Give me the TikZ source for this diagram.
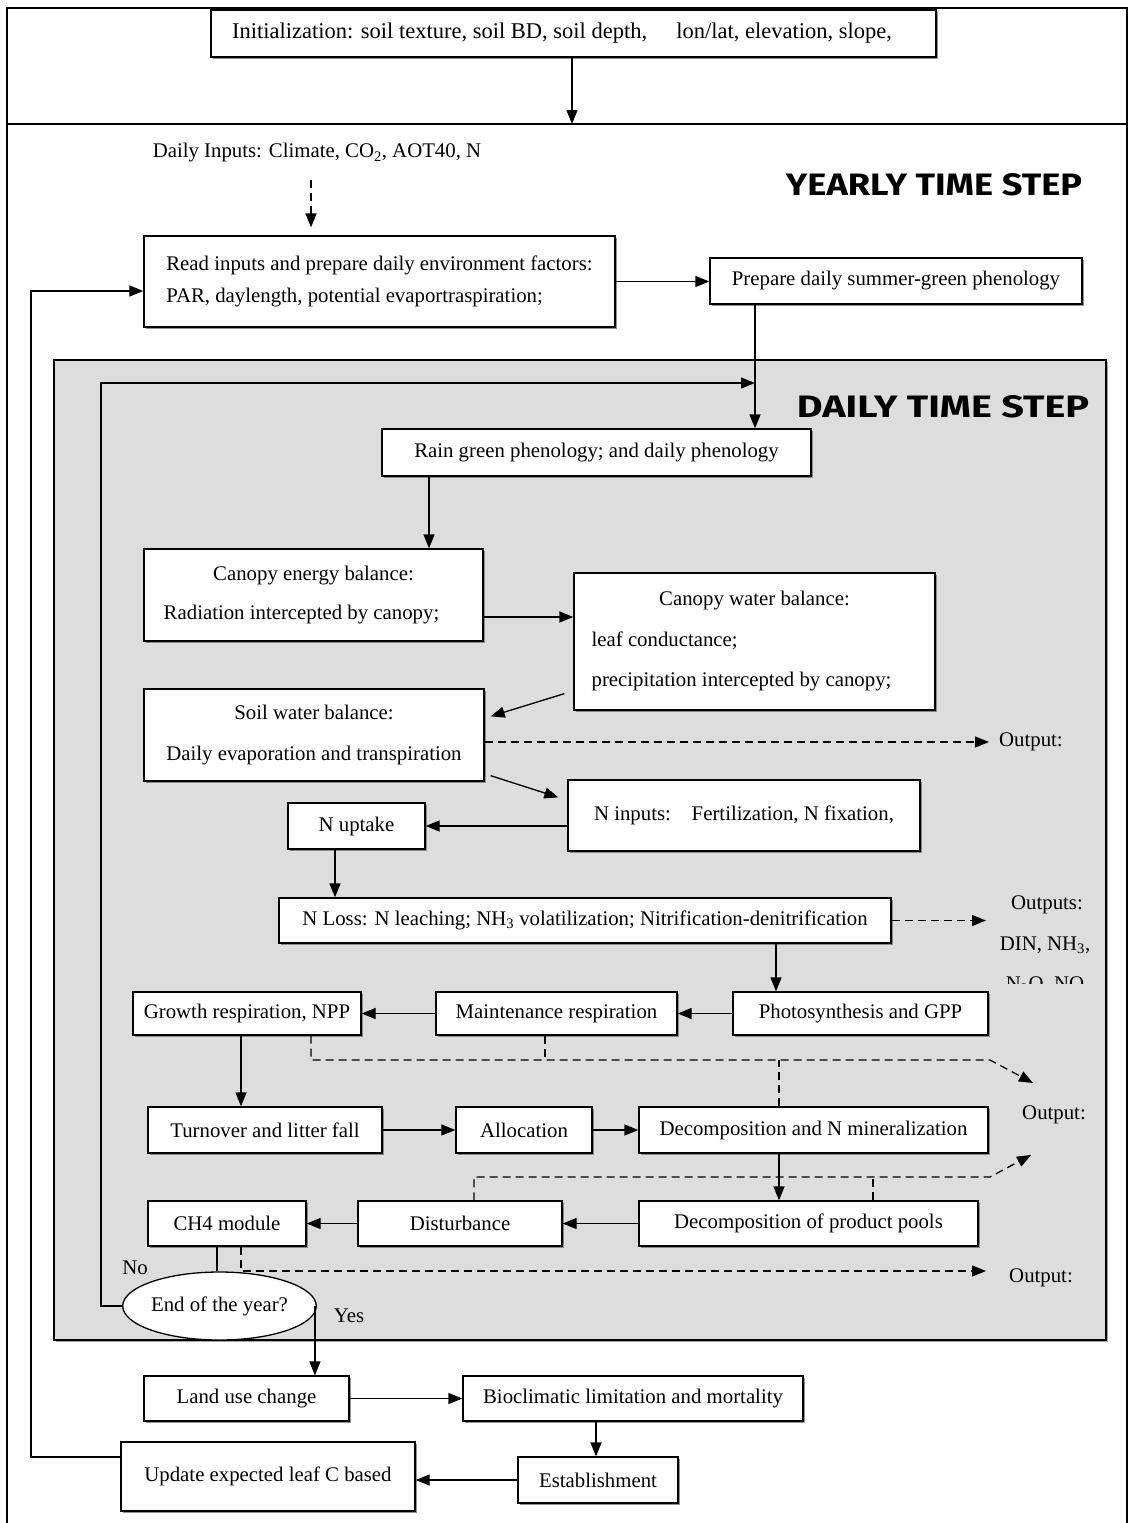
\documentclass[tikz,border=0pt]{standalone}
\usepackage{fontspec}
\setmainfont{Liberation Serif}
\newfontfamily\titlefont{Fira Sans}
\usetikzlibrary{arrows.meta,shapes.geometric,shadows}
\newcommand{\fsz}{\fontsize{20.8}{24.5}\selectfont}
\definecolor{daygray}{RGB}{221,221,221}
\tikzset{
 box/.style={draw=black, line width=1.3pt, fill=white, inner sep=0pt, font=\fsz, align=center,
   drop shadow={shadow xshift=1.5pt, shadow yshift=-1.5pt, fill=black!60, opacity=0.7}},
 lbl/.style={inner sep=0pt, font=\fsz},
 conn/.style={line width=1.3pt, -{Triangle[length=14pt,width=11pt]}},
 dconn/.style={conn, dash pattern=on 8pt off 5pt},
 dline/.style={line width=1.3pt, dash pattern=on 8pt off 5pt},
 ttl/.style={inner sep=0pt},
 frame/.style={line width=1.5pt},
}
\newcommand{\ttltext}[2]{\resizebox{#1pt}{22pt}{\titlefont\bfseries #2}}
\begin{document}
\begin{tikzpicture}[x=1pt,y=-1pt]
\useasboundingbox (0,0) rectangle (1129,1523);
\fill[white] (0,0) rectangle (1129,1523);
% frames
\draw[frame] (7,1530) -- (7,8) -- (1127,8) -- (1127,1530);
\draw[frame] (7,124) -- (1127,124);
\draw[frame, fill=daygray, drop shadow={shadow xshift=2pt,shadow yshift=-2pt,fill=black!70}] (54,360) rectangle (1106,1340);

% nodes
\node[box, minimum width=725, minimum height=47] (init) at (573.5,33.5) {};
\node[lbl, anchor=west, font=\fontsize{22.5}{26}\selectfont] (inittxt) at (232,33.5) {Initialization: soil texture, soil BD, soil depth,\hspace{1.3em}lon/lat, elevation, slope,};
\node[lbl] (dinp) at (317,153) {Daily Inputs: Climate, CO\textsubscript{2}, AOT40, N};
\node[box, minimum width=471, minimum height=91, align=left] (read) at (379.5,281.5) {Read inputs and prepare daily environment factors:\\[8pt]PAR, daylength, potential evaportraspiration;};
\node[box, minimum width=372, minimum height=46] (summer) at (896,281) {Prepare daily summer-green phenology};
\node[ttl] (yts) at (934,185) {\ttltext{296}{YEARLY TIME STEP}};
\node[ttl] (dts) at (943,407) {\ttltext{292}{DAILY TIME STEP}};
\node[box, minimum width=429, minimum height=47] (rain) at (596.5,452.5) {Rain green phenology; and daily phenology};
\node[box, minimum width=339, minimum height=92] (cen) at (313.5,595) {\begin{tabular}{@{}l@{}}\multicolumn{1}{@{}c@{}}{Canopy energy balance:}\\[14pt]Radiation intercepted by canopy;\hspace*{24pt}\end{tabular}};
\node[box, minimum width=361, minimum height=137] (cwat) at (754.5,641.5) {\begin{tabular}{@{}l@{}}\multicolumn{1}{@{}c@{}}{Canopy water balance:}\\[16pt]leaf conductance;\\[16pt]precipitation intercepted by canopy;\hspace*{26pt}\end{tabular}};
\node[box, minimum width=340, minimum height=92] (soil) at (314,735) {Soil water balance:\\[17pt]Daily evaporation and transpiration};
\node[box, minimum width=352, minimum height=71] (nin) at (744,815.5) {N inputs:\hspace{1em}Fertilization, N fixation,};
\node[box, minimum width=137, minimum height=46] (nup) at (356.5,826) {N uptake};
\node[box, minimum width=612, minimum height=45] (nloss) at (585,920.5) {N Loss: N leaching; NH\textsubscript{3} volatilization; Nitrification-denitrification};
\node[box, minimum width=255, minimum height=43] (photo) at (860.5,1013.5) {Photosynthesis and GPP};
\node[box, minimum width=241, minimum height=43] (maint) at (556.5,1013.5) {Maintenance respiration};
\node[box, minimum width=228, minimum height=43] (growth) at (247,1013.5) {Growth respiration, NPP};
\node[box, minimum width=234, minimum height=46] (turn) at (265,1130) {Turnover and litter fall};
\node[box, minimum width=136, minimum height=46] (alloc) at (524,1130) {Allocation};
\node[box, minimum width=349, minimum height=46] (decomp) at (813.5,1130) {Decomposition and N mineralization};
\node[box, minimum width=339, minimum height=45] (prod) at (808.5,1223.5) {Decomposition of product pools};
\node[box, minimum width=204, minimum height=45] (dist) at (460,1223.5) {Disturbance};
\node[box, minimum width=158, minimum height=45] (ch4) at (227,1223.5) {CH4 module};
\node[draw, ellipse, line width=1.3pt, fill=white, minimum width=187, minimum height=68, inner sep=0pt, font=\fsz] (eoy) at (219.5,1306) {End of the year?};
\node[lbl] (no) at (135,1268) {No};
\node[lbl] (yes) at (349,1316) {Yes};
\node[box, minimum width=205, minimum height=45] (land) at (246.5,1398.5) {Land use change};
\node[box, minimum width=340, minimum height=45] (bio) at (633,1398.5) {Bioclimatic limitation and mortality};
\node[box, minimum width=160, minimum height=46] (estab) at (598,1480) {Establishment};
\node[box, minimum width=294, minimum height=69] (upd) at (268,1476.5) {Update expected leaf C based};
% output labels
\node[lbl, anchor=west] (o1) at (999,742) {Output:};
\node[lbl] (o2) at (1047,905) {Outputs:};
\node[lbl] (o2b) at (1045,945) {DIN, NH\textsubscript{3},};
\begin{scope}
\clip (980,960) rectangle (1100,983);
\node[lbl] (o2c) at (1045,985) {N\textsubscript{2}O, NO};
\end{scope}
\node[lbl] (o3) at (1054,1115) {Output:};
\node[lbl] (o4) at (1041,1278) {Output:};

% connectors
\coordinate (ytop) at (572,124);
\draw[conn] (init.south -| ytop) -- (ytop);
\coordinate (dia) at (311,180);
\draw[dconn, shorten >=8pt] (dia) -- (dia |- read.north);
\draw[conn] (read.east) -- (read.east -| summer.west);
\coordinate (jx) at (755,383);
\draw[conn] (summer.south -| jx) -- (rain.north -| jx);
\coordinate (lpx) at (101,383);
\draw[conn] (eoy.west) -| (lpx) -- (jx);
\draw[conn] ([xshift=-167.5pt]rain.south) -- ([xshift=-167.5pt]rain.south |- cen.north);
\draw[conn] ([yshift=-22pt]cen.east) -- ([yshift=-22pt]cen.east -| cwat.west);
\draw[conn] ([xshift=-9pt,yshift=17pt]cwat.south west) -- ([xshift=6pt,yshift=-28pt]soil.north east);
\draw[dconn, shorten >=10pt] ([yshift=-7pt]soil.east) -- ([yshift=-7pt]soil.east -| o1.west);
\draw[conn] ([xshift=6pt,yshift=6pt]soil.south east) -- ([xshift=-9pt,yshift=-18pt]nin.north west);
\draw[conn] (nin.west |- nup.east) -- (nup.east);
\draw[conn] ([xshift=-21.5pt]nup.south) -- ([xshift=-21.5pt]nup.south |- nloss.north);
\coordinate (o2a) at (986,920.5);
\draw[dconn] (nloss.east) -- (o2a);
\draw[conn] ([xshift=191pt]nloss.south) -- ([xshift=191pt]nloss.south |- photo.north);
\draw[conn] (photo.west) -- (maint.east);
\draw[conn] (maint.west) -- (growth.east);
\draw[conn] ([xshift=-6pt]growth.south) -- ([xshift=-6pt]growth.south |- turn.north);
\coordinate (d1) at (990,1060);
\coordinate (d1t) at (1033,1083);
\draw[dconn] ([xshift=64pt]growth.south) |- (d1) -- (d1t);
\draw[dline] ([xshift=-11.5pt]maint.south) -- ([xshift=-11.5pt]maint.south |- d1);
\draw[dline] ([xshift=-34.5pt]decomp.north) -- ([xshift=-34.5pt]decomp.north |- d1);
\draw[conn] (turn.east) -- (alloc.west);
\draw[conn] (alloc.east) -- (decomp.west);
\draw[conn] ([xshift=-34.5pt]decomp.south) -- ([xshift=-34.5pt]decomp.south |- prod.north);
\coordinate (d2) at (990,1177);
\coordinate (d2t) at (1031,1155);
\draw[dconn] ([xshift=14pt]dist.north) |- (d2) -- (d2t);
\draw[dline] ([xshift=64.5pt]prod.north) -- ([xshift=64.5pt]prod.north |- d2);
\draw[conn] (prod.west) -- (dist.east);
\draw[conn] (dist.west) -- (ch4.east);
\coordinate (d3) at (986,1271);
\draw[dconn] ([xshift=14pt]ch4.south) |- (d3);
\draw[line width=1.3pt] ([xshift=-10pt]ch4.south) -- ([xshift=-10pt]ch4.south |- eoy.north);
\draw[conn] ([xshift=-2pt]eoy.east) -- ([xshift=-2pt]eoy.east |- land.north);
\draw[conn] (land.east) -- (bio.west);
\draw[conn] ([xshift=-37pt]bio.south) -- ([xshift=-37pt]bio.south |- estab.north);
\draw[conn] (estab.west) -- (estab.west -| upd.east);
\coordinate (olp) at (31,291);
\draw[conn] ([yshift=19.5pt]upd.west) -| (olp) -- (olp -| read.west);
\end{tikzpicture}
\end{document}
